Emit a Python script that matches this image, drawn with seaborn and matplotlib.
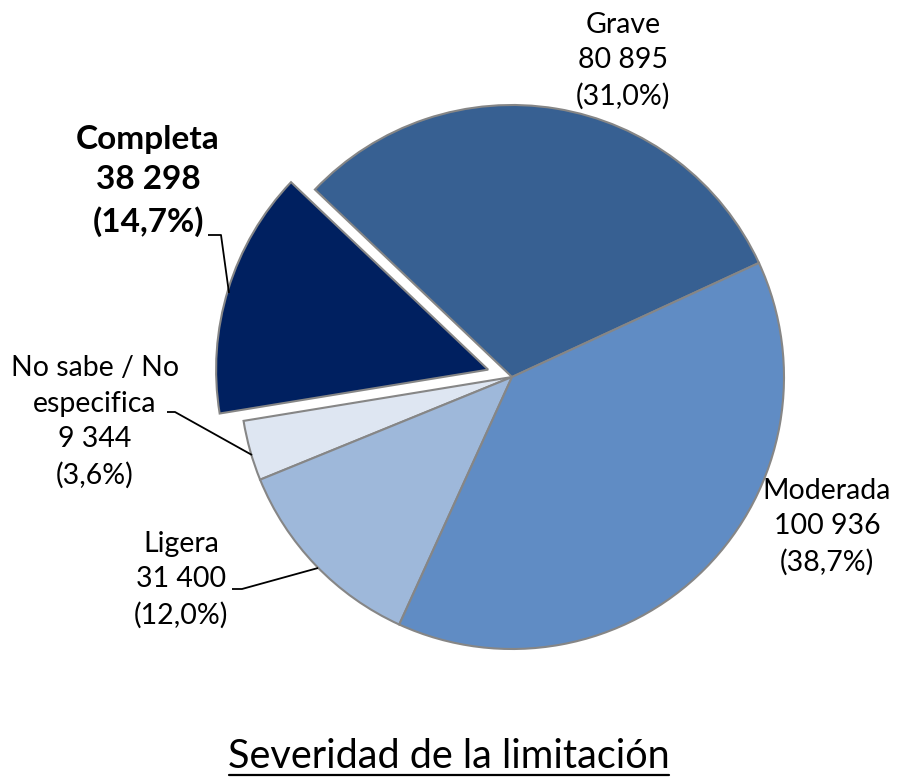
import matplotlib
matplotlib.use("Agg")
import matplotlib.pyplot as plt
import seaborn as sns

# ---- data ----
categories = ["Grave", "Completa", "No sabe / No\nespecifica", "Ligera", "Moderada"]
values = [80895, 38298, 9344, 31400, 100936]
value_labels = ["80 895", "38 298", "9 344", "31 400", "100 936"]
pct_labels = ["(31,0%)", "(14,7%)", "(3,6%)", "(12,0%)", "(38,7%)"]
title = "Severidad de la limitación"

slice_colors = ["#376092", "#002060", "#DEE6F2", "#9EB8DA", "#608CC4"]

sns.set_theme(style="white")
plt.rcParams["font.family"] = ["Lato", "DejaVu Sans"]

W, H = 900, 777
fig = plt.figure(figsize=(W / 100, H / 100), dpi=100)
ax = fig.add_axes([0, 0, 1, 1])

palette = sns.color_palette(slice_colors)
cx, cy, R = 512, H - 377, 272
explode = [0, 25, 0, 0, 0]
wedges, _ = ax.pie(values, colors=palette, startangle=24.8, counterclock=True,
                   explode=explode, center=(cx, cy), radius=R,
                   wedgeprops=dict(edgecolor="#868686", linewidth=1.5))
ax.set_xlim(0, W)
ax.set_ylim(0, H)
ax.set_aspect("equal")
ax.axis("off")

fs = 20.5

def lab(i, x, y, bold=False, size=fs, ls=1.45):
    txt = f"{categories[i]}\n{value_labels[i]}\n{pct_labels[i]}"
    ax.text(x, H - y, txt, ha="center", va="center", multialignment="center",
            fontsize=size, fontweight="bold" if bold else "normal",
            linespacing=ls, color="black")

lab(0, 623, 61)
lab(1, 148, 181, bold=True, size=24, ls=1.45)
lab(2, 95, 422)
lab(3, 181, 580)
lab(4, 827, 527)

def leader(pts):
    xs = [p[0] for p in pts]
    ys = [H - p[1] for p in pts]
    ax.plot(xs, ys, color="black", lw=1.3, solid_capstyle="butt")

leader([(208, 235), (221, 235), (229, 293)])
leader([(167, 412), (175, 412), (252, 455)])
leader([(232, 589), (242, 589), (318, 568)])

t = ax.text(449, H - 768, title, ha="center", va="baseline", fontsize=28.5, color="black")
fig.canvas.draw()
bb = t.get_window_extent()
uy = H - 775
ax.plot([bb.x0 + 1, bb.x1 - 1], [uy, uy], color="black", lw=1.6)

fig.savefig("out.png", dpi=100)
